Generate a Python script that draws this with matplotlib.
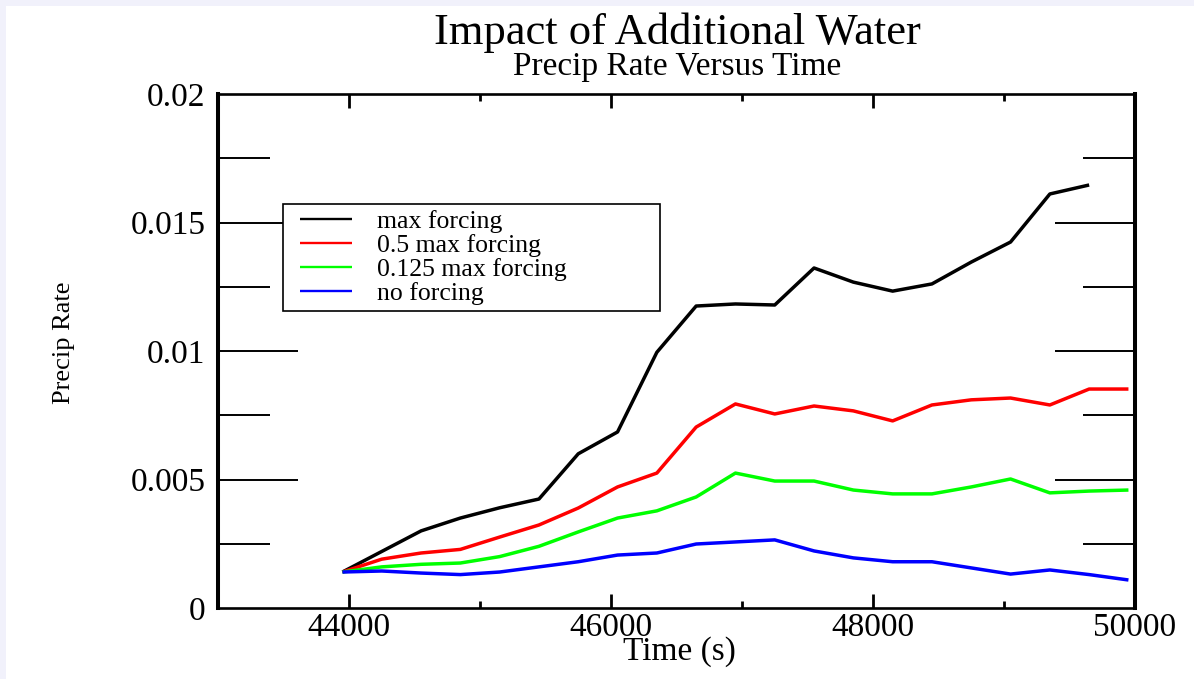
import matplotlib
matplotlib.use("Agg")
import matplotlib.pyplot as plt
from matplotlib.patches import Rectangle
from matplotlib.ticker import FixedLocator, FixedFormatter
from matplotlib.legend_handler import HandlerLine2D
from matplotlib.lines import Line2D

# Model output times (s)
time_s = [43950, 44250, 44550, 44850, 45150, 45450, 45750, 46050, 46350,
          46650, 46950, 47250, 47550, 47850, 48150, 48450, 48750, 49050,
          49350, 49650, 49950]

# Precipitation rate for each forcing experiment
max_forcing = [0.0014, 0.0022, 0.0030, 0.0035, 0.0039, 0.00424, 0.0060,
               0.00685, 0.00995, 0.01175, 0.01183, 0.01179, 0.01323,
               0.01268, 0.01233, 0.01261, 0.01346, 0.01424, 0.01611,
               0.01646]
half_forcing = [0.0014, 0.0019, 0.00214, 0.00228, 0.00276, 0.00323,
                0.00389, 0.00471, 0.00525, 0.00704, 0.00794, 0.00755,
                0.00786, 0.00767, 0.00728, 0.0079, 0.0081, 0.00817,
                0.0079, 0.00852, 0.00852]
eighth_forcing = [0.0014, 0.0016, 0.0017, 0.00175, 0.0020, 0.0024,
                  0.00296, 0.0035, 0.00378, 0.00432, 0.00525, 0.00494,
                  0.00494, 0.00459, 0.00444, 0.00444, 0.00471, 0.00502,
                  0.00448, 0.00455, 0.00459]
no_forcing = [0.0014, 0.00144, 0.00136, 0.0013, 0.0014, 0.0016, 0.0018,
              0.00206, 0.00214, 0.00249, 0.00257, 0.00265, 0.00222,
              0.00195, 0.0018, 0.0018, 0.00156, 0.00132, 0.00148, 0.0013,
              0.00109]

series_labels = ["max forcing", "0.5 max forcing", "0.125 max forcing",
                 "no forcing"]
series_colors = ["#000000", "#ff0000", "#00ff00", "#0000ff"]

x_major = [44000, 46000, 48000, 50000]
x_minor = [45000, 47000, 49000]
x_tick_labels = ["44000", "46000", "48000", "50000"]
y_major = [0.0, 0.005, 0.01, 0.015, 0.02]
y_minor = [0.0025, 0.0075, 0.0125, 0.0175]
y_tick_labels = ["0", "0.005", "0.01", "0.015", "0.02"]

plt.rcParams["font.family"] = ["Liberation Serif", "DejaVu Serif"]

W, H = 1194, 679
fig = plt.figure(figsize=(W / 100, H / 100), dpi=100)
fig.patch.set_facecolor("white")

# thin tinted strips along the top and left edges
band = "#f1f1fb"
fig.patches.append(Rectangle((0, 1 - 6 / H), 1, 6 / H, transform=fig.transFigure,
                             facecolor=band, edgecolor="none", zorder=0))
fig.patches.append(Rectangle((0, 0), 6 / W, 1, transform=fig.transFigure,
                             facecolor=band, edgecolor="none", zorder=0))

ax = fig.add_axes([218 / W, 1 - 608 / H, (1135 - 218) / W, (608 - 94) / H])

all_series = [max_forcing, half_forcing, eighth_forcing, no_forcing]
for values, label, color in zip(all_series, series_labels, series_colors):
    ax.plot(time_s[:len(values)], values, color=color, lw=2.5, label=label,
            solid_joinstyle="round", solid_capstyle="butt")

ax.set_xlim(43000, 50000)
ax.set_ylim(0, 0.02)

ax.xaxis.set_major_locator(FixedLocator(x_major))
ax.xaxis.set_minor_locator(FixedLocator(x_minor))
ax.xaxis.set_major_formatter(FixedFormatter(x_tick_labels))
ax.yaxis.set_major_locator(FixedLocator(y_major))
ax.yaxis.set_minor_locator(FixedLocator(y_minor))
ax.yaxis.set_major_formatter(FixedFormatter(y_tick_labels))

ax.tick_params(axis="both", which="both", direction="in", top=True,
               right=True, colors="black")
ax.tick_params(axis="x", which="major", length=10, width=2.0, pad=3,
               labelsize=24)
ax.tick_params(axis="x", which="minor", length=5, width=2.0)
ax.tick_params(axis="y", which="major", length=57.5, width=1.4, pad=9,
               labelsize=24)
ax.tick_params(axis="y", which="minor", length=37.5, width=1.4)

# the end ticks of the y axis lie on the frame itself
fig.canvas.draw()
for tick in ax.yaxis.get_major_ticks():
    if tick.get_loc() in (y_major[0], y_major[-1]):
        tick.tick1line.set_visible(False)
        tick.tick2line.set_visible(False)

for side in ("left", "right"):
    ax.spines[side].set_linewidth(2.9)
for side in ("top", "bottom"):
    ax.spines[side].set_linewidth(1.9)

ax.set_xlabel("Time (s)", fontsize=24, va="center")
ax.xaxis.set_label_coords(0.503, (608 - 652) / 514)
ax.set_ylabel("Precip Rate", fontsize=19, va="center", ha="center")
ax.yaxis.set_label_coords((64 - 218) / 917, (608 - 343) / 514)

leg_fs = 18.5
leg = ax.legend(loc="upper left",
                bbox_to_anchor=((283 - 218) / 917, (608 - 204) / 514,
                                (660 - 283) / 917, 0),
                mode="expand", borderaxespad=0, fontsize=leg_fs,
                handlelength=2.45, handletextpad=1.0, labelspacing=0.045,
                borderpad=0.22, fancybox=False, framealpha=1,
                edgecolor="black",
                handler_map={Line2D: HandlerLine2D(xpad=0.43)})
leg.get_frame().set_linewidth(1.2)
for line in leg.get_lines():
    line.set_linewidth(1.7)

fig.text(677 / W, 1 - 44 / H, "Impact of Additional Water", ha="center",
         va="baseline", fontsize=32)
fig.text(677 / W, 1 - 75 / H, "Precip Rate Versus Time", ha="center",
         va="baseline", fontsize=24)

fig.savefig("out.png", dpi=100, facecolor=fig.get_facecolor())
